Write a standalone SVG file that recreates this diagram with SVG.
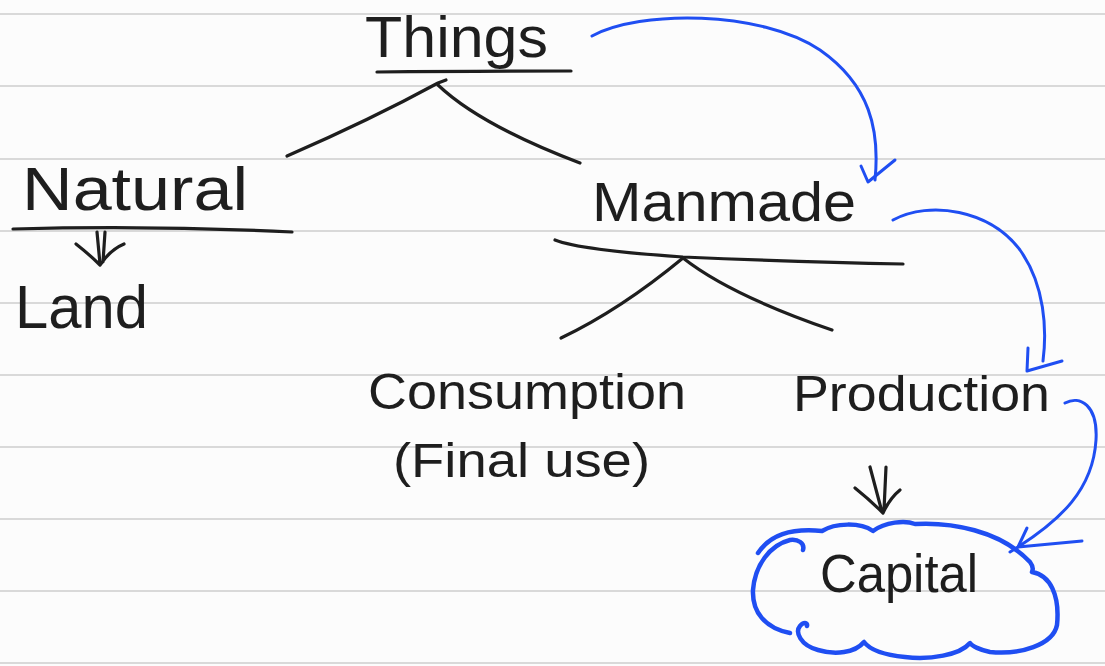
<svg xmlns="http://www.w3.org/2000/svg" width="1105" height="666" viewBox="0 0 1105 666">
  <style>
    .rule { stroke: #d9d9d9; stroke-width: 2; }
    .ink { fill: none; stroke: #1e1e1e; stroke-width: 3.2; stroke-linecap: round; stroke-linejoin: round; }
    .blue { fill: none; stroke: #1f4ef2; stroke-width: 3; stroke-linecap: round; stroke-linejoin: round; }
    .cloud { fill: none; stroke: #1f4ef2; stroke-width: 4.5; stroke-linecap: round; stroke-linejoin: round; }
    .t { font-family: "Liberation Sans", Arial, sans-serif; fill: #1e1e1e; }
  </style>
  <rect width="1105" height="666" fill="#fcfcfc"/>
  <g id="paper-lines">
    <line class="rule" x1="0" y1="14" x2="1105" y2="14"/>
    <line class="rule" x1="0" y1="86" x2="1105" y2="86"/>
    <line class="rule" x1="0" y1="159" x2="1105" y2="159"/>
    <line class="rule" x1="0" y1="231" x2="1105" y2="231"/>
    <line class="rule" x1="0" y1="303" x2="1105" y2="303"/>
    <line class="rule" x1="0" y1="375" x2="1105" y2="375"/>
    <line class="rule" x1="0" y1="447" x2="1105" y2="447"/>
    <line class="rule" x1="0" y1="519" x2="1105" y2="519"/>
    <line class="rule" x1="0" y1="591" x2="1105" y2="591"/>
    <line class="rule" x1="0" y1="663" x2="1105" y2="663"/>
  </g>

  <g id="connectors">
    <!-- underlines -->
    <path class="ink" d="M377,72 Q470,71 571,71"/>
    <path class="ink" d="M13,229 Q150,225 292,232"/>
    <path class="ink" d="M555,240 Q580,250 683,257 Q800,262 903,264"/>
    <!-- tree from Things -->
    <path class="ink" d="M287,156 Q370,120 438,83 L446,80"/>
    <path class="ink" d="M438,85 Q480,125 580,163"/>
    <!-- tree from Manmade -->
    <path class="ink" d="M561,338 Q620,310 683,258"/>
    <path class="ink" d="M683,258 Q730,295 832,330"/>
    <!-- double arrow Natural -> Land -->
    <path class="ink" d="M97,232 L100,264 M105,232 L103,262 M76,244 Q90,255 100,265 Q110,250 124,244"/>
    <!-- double arrow Production -> Capital -->
    <path class="ink" d="M870,467 L882,512 M886,467 L884,510 M855,488 Q870,500 883,513 Q890,498 900,490"/>
    <!-- blue arrows -->
    <path class="blue" d="M592,36 C640,10 760,10 820,50 C870,85 880,130 875,180"/>
    <path class="blue" d="M861,166 L868,182 L895,160"/>
    <path class="blue" d="M893,220 C930,200 990,210 1020,250 C1045,285 1047,330 1043,361"/>
    <path class="blue" d="M1028,348 L1027,371 L1062,361"/>
    <path class="blue" d="M1065,403 C1080,395 1098,405 1096,440 C1093,490 1060,520 1018,547 L1010,552"/>
    <path class="blue" d="M1027,528 L1018,547 L1082,541"/>
  </g>

  <g id="things">
    <text class="t" x="365" y="57" font-size="58" textLength="183" lengthAdjust="spacingAndGlyphs">Things</text>
  </g>
  <g id="natural">
    <text class="t" x="22" y="210" font-size="62" textLength="226" lengthAdjust="spacingAndGlyphs">Natural</text>
  </g>
  <g id="land">
    <text class="t" x="15" y="328" font-size="62" textLength="133" lengthAdjust="spacingAndGlyphs">Land</text>
  </g>
  <g id="manmade">
    <text class="t" x="592" y="221" font-size="56" textLength="264" lengthAdjust="spacingAndGlyphs">Manmade</text>
  </g>
  <g id="consumption">
    <text class="t" x="368" y="409" font-size="50" textLength="318" lengthAdjust="spacingAndGlyphs">Consumption</text>
    <text class="t" x="393" y="477" font-size="48" textLength="257" lengthAdjust="spacingAndGlyphs">(Final use)</text>
  </g>
  <g id="production">
    <text class="t" x="793" y="411" font-size="50" textLength="257" lengthAdjust="spacingAndGlyphs">Production</text>
  </g>
  <g id="capital">
    <path class="cloud" d="M758,553 C770,535 790,528 822,531 C835,523 860,522 873,531 C885,522 905,520 915,524 C950,522 1000,530 1030,562 C1033,566 1033,570 1032,572 C1050,575 1060,595 1057,625 C1053,645 1020,655 990,652 C980,650 972,646 970,643 C960,655 930,660 905,657 C885,655 870,650 864,642 C855,653 835,655 818,650 C800,645 795,632 800,626 C803,622 808,622 807,626"/>
    <path class="cloud" d="M803,550 C805,543 798,539 790,540 C770,545 755,565 753,590 C752,612 765,628 790,633"/>
    <text class="t" x="820" y="592" font-size="54" textLength="158" lengthAdjust="spacingAndGlyphs">Capital</text>
  </g>
</svg>
